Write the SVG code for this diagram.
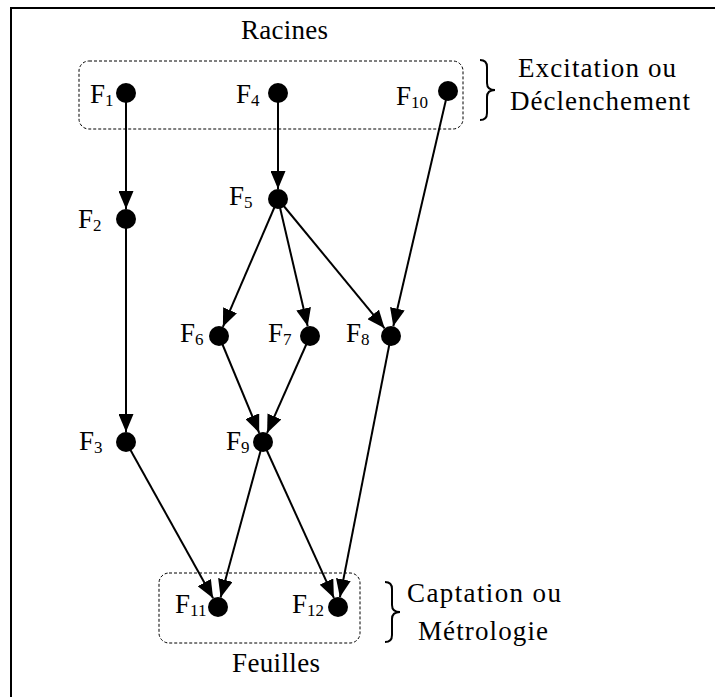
<svg xmlns="http://www.w3.org/2000/svg" width="715" height="697" viewBox="0 0 715 697">
<defs>
<marker id="arr" markerUnits="userSpaceOnUse" markerWidth="19" markerHeight="15" refX="18" refY="7.5" orient="auto">
<path d="M0,0 L18,7.5 L0,15 z" fill="#000"/>
</marker>
<style>
.t{font-family:"Liberation Serif","Times New Roman",serif;fill:#000}
.big{font-size:27px}
.lab{font-size:27px}
.sub{font-size:17px}
.dot{fill:#000}
.edge{stroke:#000;stroke-width:2;fill:none;marker-end:url(#arr)}
.grp{fill:none;stroke:#000;stroke-width:1;stroke-dasharray:3 2}
.brace{fill:none;stroke:#000;stroke-width:2}
</style>
</defs>
<rect x="0" y="0" width="715" height="697" fill="#fff"/>
<rect x="11" y="8" width="800" height="800" fill="none" stroke="#000" stroke-width="2"/>

<g id="groups">
<rect class="grp" x="79" y="61" width="384" height="68" rx="10"/>
<rect class="grp" x="159" y="573" width="201" height="70" rx="10"/>
</g>

<g id="annotations">
<text class="t big" x="284.5" y="39" text-anchor="middle" textLength="87">Racines</text>
<text class="t big" x="276" y="672" text-anchor="middle" textLength="88">Feuilles</text>
<path class="brace" d="M480,60 Q487,60 487,67 L487,83 Q487,90 495,90 Q487,90 487,97 L487,113 Q487,120 480,120"/>
<text class="t big" x="597" y="77" text-anchor="middle" textLength="158">Excitation ou</text>
<text class="t big" x="600" y="110" text-anchor="middle" textLength="180">Déclenchement</text>
<path class="brace" d="M385,582 Q392,582 392,589 L392,605 Q392,612 400,612 Q392,612 392,619 L392,635 Q392,642 385,642"/>
<text class="t big" x="484" y="602" text-anchor="middle" textLength="154">Captation ou</text>
<text class="t big" x="483" y="640" text-anchor="middle" textLength="130">Métrologie</text>
</g>

<g id="connectors">
<line class="edge" x1="126" y1="93" x2="126" y2="209"/>
<line class="edge" x1="126" y1="219" x2="126" y2="432"/>
<line class="edge" x1="126" y1="442" x2="213.1" y2="598.3"/>
<line class="edge" x1="278" y1="93" x2="278" y2="189"/>
<line class="edge" x1="278" y1="199" x2="222.9" y2="326.8"/>
<line class="edge" x1="278" y1="199" x2="307.7" y2="326.3"/>
<line class="edge" x1="278" y1="199" x2="384.6" y2="328.3"/>
<line class="edge" x1="448" y1="91" x2="393.3" y2="326.3"/>
<line class="edge" x1="219" y1="336" x2="259.2" y2="432.8"/>
<line class="edge" x1="310" y1="336" x2="267.1" y2="432.9"/>
<line class="edge" x1="263" y1="442" x2="220.6" y2="597.4"/>
<line class="edge" x1="263" y1="442" x2="333.9" y2="597.9"/>
<line class="edge" x1="391" y1="336" x2="339.9" y2="597.2"/>
</g>

<g id="F1"><circle class="dot" cx="126" cy="93" r="10"/><text class="t lab" x="90" y="103">F<tspan class="sub" dy="3">1</tspan></text></g>
<g id="F4"><circle class="dot" cx="278" cy="93" r="10"/><text class="t lab" x="236" y="103">F<tspan class="sub" dy="3">4</tspan></text></g>
<g id="F10"><circle class="dot" cx="448" cy="91" r="10"/><text class="t lab" x="396" y="105">F<tspan class="sub" dy="3">10</tspan></text></g>
<g id="F2"><circle class="dot" cx="126" cy="219" r="10"/><text class="t lab" x="78" y="228">F<tspan class="sub" dy="3">2</tspan></text></g>
<g id="F5"><circle class="dot" cx="278" cy="199" r="10"/><text class="t lab" x="229" y="205">F<tspan class="sub" dy="3">5</tspan></text></g>
<g id="F6"><circle class="dot" cx="219" cy="336" r="10"/><text class="t lab" x="180" y="342">F<tspan class="sub" dy="3">6</tspan></text></g>
<g id="F7"><circle class="dot" cx="310" cy="336" r="10"/><text class="t lab" x="268" y="342">F<tspan class="sub" dy="3">7</tspan></text></g>
<g id="F8"><circle class="dot" cx="391" cy="336" r="10"/><text class="t lab" x="346" y="342">F<tspan class="sub" dy="3">8</tspan></text></g>
<g id="F3"><circle class="dot" cx="126" cy="442" r="10"/><text class="t lab" x="79" y="450">F<tspan class="sub" dy="3">3</tspan></text></g>
<g id="F9"><circle class="dot" cx="263" cy="442" r="10"/><text class="t lab" x="226" y="450">F<tspan class="sub" dy="3">9</tspan></text></g>
<g id="F11"><circle class="dot" cx="218" cy="607" r="10"/><text class="t lab" x="175" y="613">F<tspan class="sub" dy="3">11</tspan></text></g>
<g id="F12"><circle class="dot" cx="338" cy="607" r="10"/><text class="t lab" x="292" y="613">F<tspan class="sub" dy="3">12</tspan></text></g>
</svg>
